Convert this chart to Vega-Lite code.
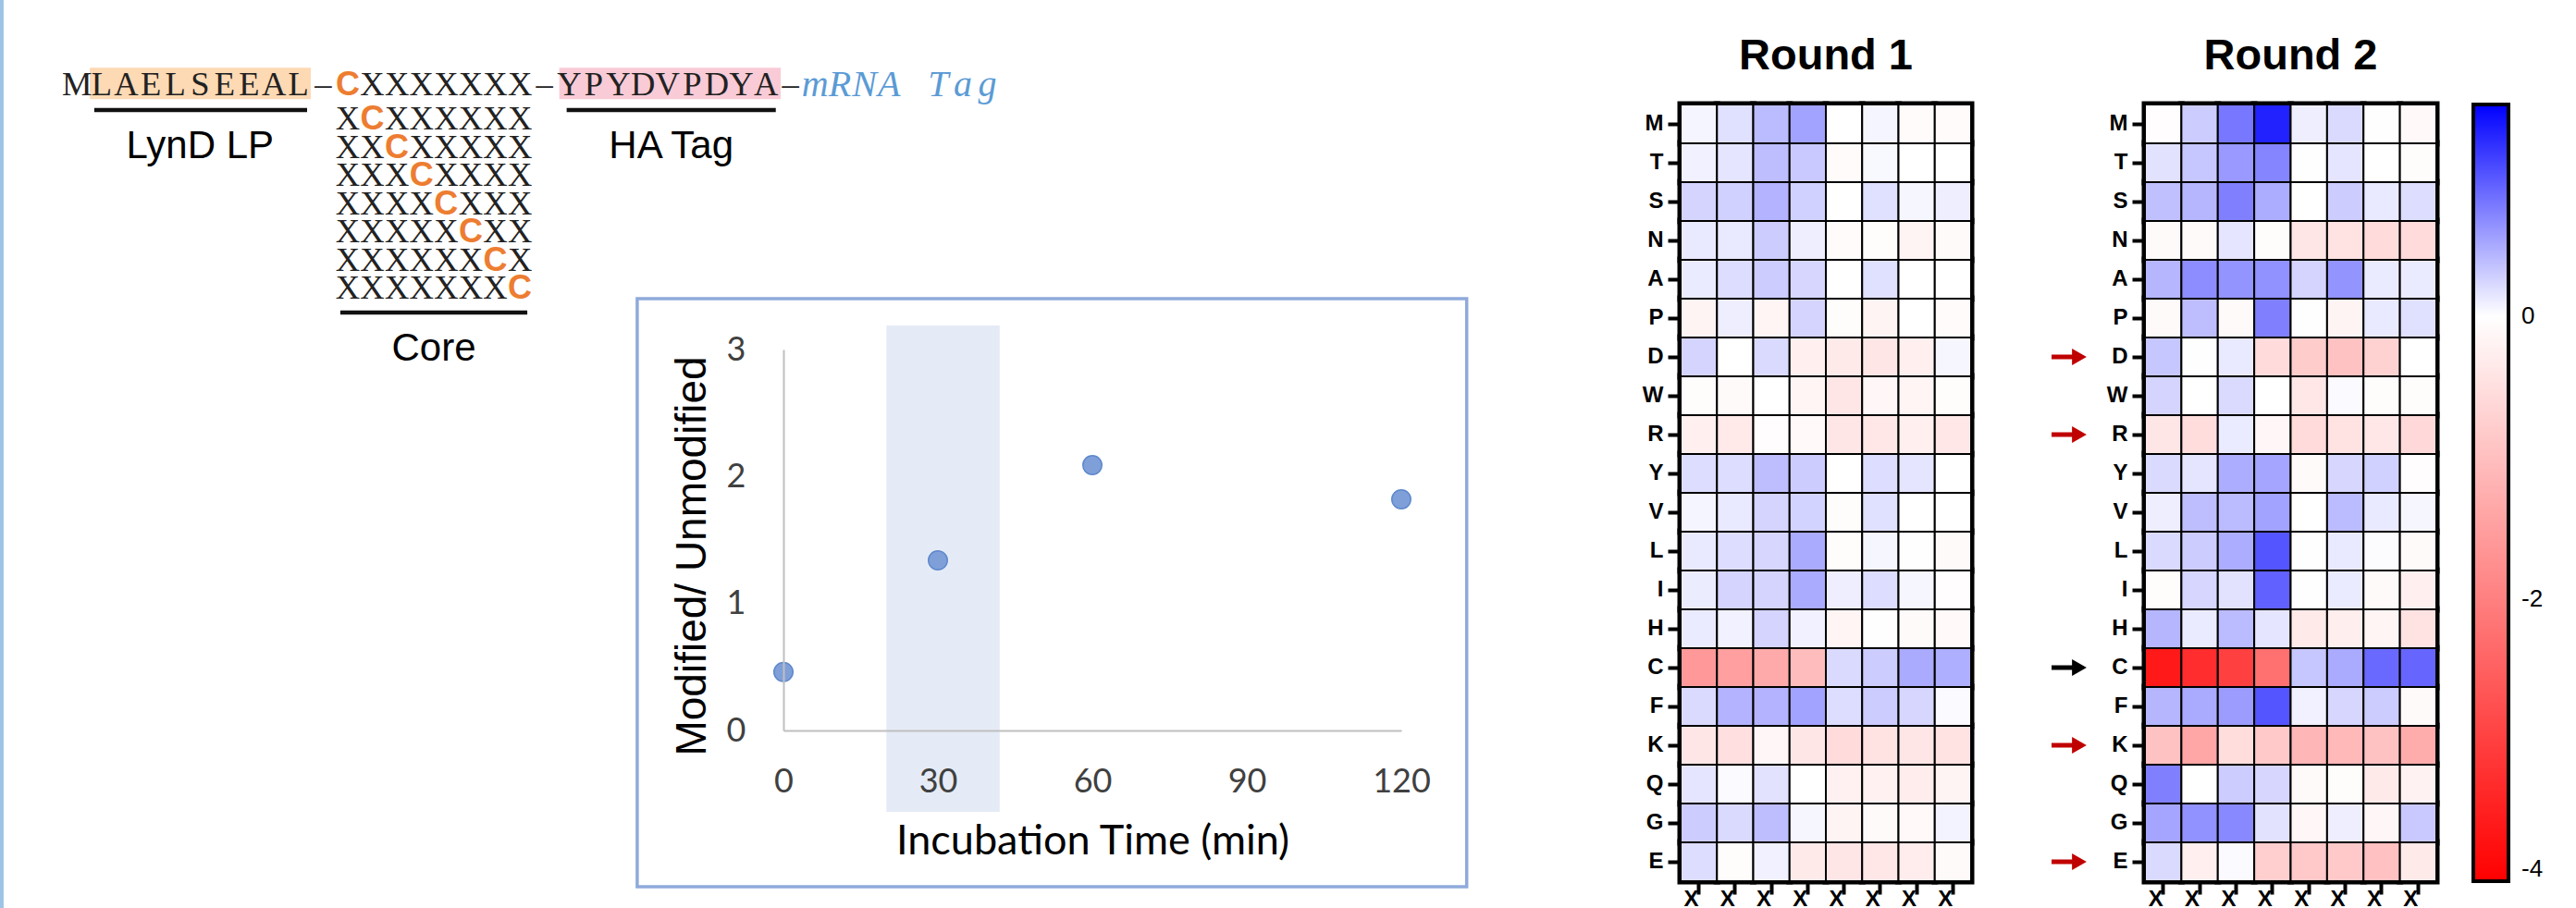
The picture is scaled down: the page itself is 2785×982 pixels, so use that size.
{
  "$schema": "https://vega.github.io/schema/vega-lite/v6.json",
  "width": 2785,
  "height": 982,
  "autosize": {"type": "none"},
  "padding": 0,
  "background": "white",
  "config": {"view": {"stroke": null}, "axis": {"grid": false}},
  "datasets": {
    "chars": [
      {"ch":"M","col":0,"line":0,"k":"seq"},{"ch":"L","col":1,"line":0,"k":"seq"},{"ch":"A","col":2,"line":0,"k":"seq"},{"ch":"E","col":3,"line":0,"k":"seq"},{"ch":"L","col":4,"line":0,"k":"seq"},{"ch":"S","col":5,"line":0,"k":"seq"},{"ch":"E","col":6,"line":0,"k":"seq"},{"ch":"E","col":7,"line":0,"k":"seq"},{"ch":"A","col":8,"line":0,"k":"seq"},{"ch":"L","col":9,"line":0,"k":"seq"},
      {"ch":"–","col":10,"line":0,"k":"seq"},{"ch":"C","col":11,"line":0,"k":"cys"},
      {"ch":"X","col":12,"line":0,"k":"seq"},{"ch":"X","col":13,"line":0,"k":"seq"},{"ch":"X","col":14,"line":0,"k":"seq"},{"ch":"X","col":15,"line":0,"k":"seq"},{"ch":"X","col":16,"line":0,"k":"seq"},{"ch":"X","col":17,"line":0,"k":"seq"},{"ch":"X","col":18,"line":0,"k":"seq"},
      {"ch":"–","col":19,"line":0,"k":"seq"},
      {"ch":"Y","col":20,"line":0,"k":"seq"},{"ch":"P","col":21,"line":0,"k":"seq"},{"ch":"Y","col":22,"line":0,"k":"seq"},{"ch":"D","col":23,"line":0,"k":"seq"},{"ch":"V","col":24,"line":0,"k":"seq"},{"ch":"P","col":25,"line":0,"k":"seq"},{"ch":"D","col":26,"line":0,"k":"seq"},{"ch":"Y","col":27,"line":0,"k":"seq"},{"ch":"A","col":28,"line":0,"k":"seq"},
      {"ch":"–","col":29,"line":0,"k":"seq"},
      {"ch":"m","col":30,"line":0,"k":"tag"},{"ch":"R","col":31,"line":0,"k":"tag"},{"ch":"N","col":32,"line":0,"k":"tag"},{"ch":"A","col":33,"line":0,"k":"tag"},{"ch":"T","col":35,"line":0,"k":"tag"},{"ch":"a","col":36,"line":0,"k":"tag"},{"ch":"g","col":37,"line":0,"k":"tag"},
      {"ch":"X","col":11,"line":1,"k":"seq"},{"ch":"C","col":12,"line":1,"k":"cys"},{"ch":"X","col":13,"line":1,"k":"seq"},{"ch":"X","col":14,"line":1,"k":"seq"},{"ch":"X","col":15,"line":1,"k":"seq"},{"ch":"X","col":16,"line":1,"k":"seq"},{"ch":"X","col":17,"line":1,"k":"seq"},{"ch":"X","col":18,"line":1,"k":"seq"},
      {"ch":"X","col":11,"line":2,"k":"seq"},{"ch":"X","col":12,"line":2,"k":"seq"},{"ch":"C","col":13,"line":2,"k":"cys"},{"ch":"X","col":14,"line":2,"k":"seq"},{"ch":"X","col":15,"line":2,"k":"seq"},{"ch":"X","col":16,"line":2,"k":"seq"},{"ch":"X","col":17,"line":2,"k":"seq"},{"ch":"X","col":18,"line":2,"k":"seq"},
      {"ch":"X","col":11,"line":3,"k":"seq"},{"ch":"X","col":12,"line":3,"k":"seq"},{"ch":"X","col":13,"line":3,"k":"seq"},{"ch":"C","col":14,"line":3,"k":"cys"},{"ch":"X","col":15,"line":3,"k":"seq"},{"ch":"X","col":16,"line":3,"k":"seq"},{"ch":"X","col":17,"line":3,"k":"seq"},{"ch":"X","col":18,"line":3,"k":"seq"},
      {"ch":"X","col":11,"line":4,"k":"seq"},{"ch":"X","col":12,"line":4,"k":"seq"},{"ch":"X","col":13,"line":4,"k":"seq"},{"ch":"X","col":14,"line":4,"k":"seq"},{"ch":"C","col":15,"line":4,"k":"cys"},{"ch":"X","col":16,"line":4,"k":"seq"},{"ch":"X","col":17,"line":4,"k":"seq"},{"ch":"X","col":18,"line":4,"k":"seq"},
      {"ch":"X","col":11,"line":5,"k":"seq"},{"ch":"X","col":12,"line":5,"k":"seq"},{"ch":"X","col":13,"line":5,"k":"seq"},{"ch":"X","col":14,"line":5,"k":"seq"},{"ch":"X","col":15,"line":5,"k":"seq"},{"ch":"C","col":16,"line":5,"k":"cys"},{"ch":"X","col":17,"line":5,"k":"seq"},{"ch":"X","col":18,"line":5,"k":"seq"},
      {"ch":"X","col":11,"line":6,"k":"seq"},{"ch":"X","col":12,"line":6,"k":"seq"},{"ch":"X","col":13,"line":6,"k":"seq"},{"ch":"X","col":14,"line":6,"k":"seq"},{"ch":"X","col":15,"line":6,"k":"seq"},{"ch":"X","col":16,"line":6,"k":"seq"},{"ch":"C","col":17,"line":6,"k":"cys"},{"ch":"X","col":18,"line":6,"k":"seq"},
      {"ch":"X","col":11,"line":7,"k":"seq"},{"ch":"X","col":12,"line":7,"k":"seq"},{"ch":"X","col":13,"line":7,"k":"seq"},{"ch":"X","col":14,"line":7,"k":"seq"},{"ch":"X","col":15,"line":7,"k":"seq"},{"ch":"X","col":16,"line":7,"k":"seq"},{"ch":"X","col":17,"line":7,"k":"seq"},{"ch":"C","col":18,"line":7,"k":"cys"}
    ],
    "r1": [
      {"aa":"M","p":1,"v":0.06},{"aa":"M","p":2,"v":0.18},{"aa":"M","p":3,"v":0.40},{"aa":"M","p":4,"v":0.55},{"aa":"M","p":5,"v":0},{"aa":"M","p":6,"v":0.06},{"aa":"M","p":7,"v":-0.07},{"aa":"M","p":8,"v":-0.07},
      {"aa":"T","p":1,"v":0.08},{"aa":"T","p":2,"v":0.15},{"aa":"T","p":3,"v":0.38},{"aa":"T","p":4,"v":0.32},{"aa":"T","p":5,"v":-0.06},{"aa":"T","p":6,"v":0.04},{"aa":"T","p":7,"v":0},{"aa":"T","p":8,"v":0},
      {"aa":"S","p":1,"v":0.25},{"aa":"S","p":2,"v":0.27},{"aa":"S","p":3,"v":0.45},{"aa":"S","p":4,"v":0.27},{"aa":"S","p":5,"v":0},{"aa":"S","p":6,"v":0.18},{"aa":"S","p":7,"v":0.05},{"aa":"S","p":8,"v":0.10},
      {"aa":"N","p":1,"v":0.13},{"aa":"N","p":2,"v":0.13},{"aa":"N","p":3,"v":0.30},{"aa":"N","p":4,"v":0.10},{"aa":"N","p":5,"v":-0.07},{"aa":"N","p":6,"v":-0.05},{"aa":"N","p":7,"v":-0.17},{"aa":"N","p":8,"v":-0.08},
      {"aa":"A","p":1,"v":0.12},{"aa":"A","p":2,"v":0.20},{"aa":"A","p":3,"v":0.30},{"aa":"A","p":4,"v":0.24},{"aa":"A","p":5,"v":0},{"aa":"A","p":6,"v":0.18},{"aa":"A","p":7,"v":0},{"aa":"A","p":8,"v":0},
      {"aa":"P","p":1,"v":-0.17},{"aa":"P","p":2,"v":0.10},{"aa":"P","p":3,"v":-0.15},{"aa":"P","p":4,"v":0.25},{"aa":"P","p":5,"v":-0.05},{"aa":"P","p":6,"v":-0.17},{"aa":"P","p":7,"v":0},{"aa":"P","p":8,"v":-0.07},
      {"aa":"D","p":1,"v":0.25},{"aa":"D","p":2,"v":0},{"aa":"D","p":3,"v":0.22},{"aa":"D","p":4,"v":-0.25},{"aa":"D","p":5,"v":-0.33},{"aa":"D","p":6,"v":-0.40},{"aa":"D","p":7,"v":-0.25},{"aa":"D","p":8,"v":0.05},
      {"aa":"W","p":1,"v":-0.05},{"aa":"W","p":2,"v":-0.08},{"aa":"W","p":3,"v":0},{"aa":"W","p":4,"v":-0.15},{"aa":"W","p":5,"v":-0.40},{"aa":"W","p":6,"v":-0.12},{"aa":"W","p":7,"v":-0.15},{"aa":"W","p":8,"v":-0.05},
      {"aa":"R","p":1,"v":-0.25},{"aa":"R","p":2,"v":-0.35},{"aa":"R","p":3,"v":-0.03},{"aa":"R","p":4,"v":-0.10},{"aa":"R","p":5,"v":-0.40},{"aa":"R","p":6,"v":-0.37},{"aa":"R","p":7,"v":-0.25},{"aa":"R","p":8,"v":-0.37},
      {"aa":"Y","p":1,"v":0.20},{"aa":"Y","p":2,"v":0.20},{"aa":"Y","p":3,"v":0.38},{"aa":"Y","p":4,"v":0.30},{"aa":"Y","p":5,"v":0},{"aa":"Y","p":6,"v":0.20},{"aa":"Y","p":7,"v":0.15},{"aa":"Y","p":8,"v":0},
      {"aa":"V","p":1,"v":0.06},{"aa":"V","p":2,"v":0.13},{"aa":"V","p":3,"v":0.25},{"aa":"V","p":4,"v":0.26},{"aa":"V","p":5,"v":-0.05},{"aa":"V","p":6,"v":0.18},{"aa":"V","p":7,"v":0},{"aa":"V","p":8,"v":0},
      {"aa":"L","p":1,"v":0.13},{"aa":"L","p":2,"v":0.20},{"aa":"L","p":3,"v":0.24},{"aa":"L","p":4,"v":0.50},{"aa":"L","p":5,"v":-0.05},{"aa":"L","p":6,"v":0.05},{"aa":"L","p":7,"v":-0.02},{"aa":"L","p":8,"v":-0.08},
      {"aa":"I","p":1,"v":0.11},{"aa":"I","p":2,"v":0.25},{"aa":"I","p":3,"v":0.25},{"aa":"I","p":4,"v":0.50},{"aa":"I","p":5,"v":0.10},{"aa":"I","p":6,"v":0.20},{"aa":"I","p":7,"v":0.05},{"aa":"I","p":8,"v":-0.03},
      {"aa":"H","p":1,"v":0.12},{"aa":"H","p":2,"v":0.08},{"aa":"H","p":3,"v":0.25},{"aa":"H","p":4,"v":0.08},{"aa":"H","p":5,"v":-0.15},{"aa":"H","p":6,"v":-0.02},{"aa":"H","p":7,"v":-0.08},{"aa":"H","p":8,"v":-0.10},
      {"aa":"C","p":1,"v":-1.60},{"aa":"C","p":2,"v":-1.50},{"aa":"C","p":3,"v":-1.33},{"aa":"C","p":4,"v":-1.05},{"aa":"C","p":5,"v":0.22},{"aa":"C","p":6,"v":0.30},{"aa":"C","p":7,"v":0.50},{"aa":"C","p":8,"v":0.47},
      {"aa":"F","p":1,"v":0.22},{"aa":"F","p":2,"v":0.45},{"aa":"F","p":3,"v":0.45},{"aa":"F","p":4,"v":0.55},{"aa":"F","p":5,"v":0.20},{"aa":"F","p":6,"v":0.30},{"aa":"F","p":7,"v":0.24},{"aa":"F","p":8,"v":0.03},
      {"aa":"K","p":1,"v":-0.40},{"aa":"K","p":2,"v":-0.50},{"aa":"K","p":3,"v":-0.12},{"aa":"K","p":4,"v":-0.40},{"aa":"K","p":5,"v":-0.57},{"aa":"K","p":6,"v":-0.45},{"aa":"K","p":7,"v":-0.40},{"aa":"K","p":8,"v":-0.45},
      {"aa":"Q","p":1,"v":0.15},{"aa":"Q","p":2,"v":0.03},{"aa":"Q","p":3,"v":0.17},{"aa":"Q","p":4,"v":0},{"aa":"Q","p":5,"v":-0.22},{"aa":"Q","p":6,"v":-0.22},{"aa":"Q","p":7,"v":-0.30},{"aa":"Q","p":8,"v":-0.18},
      {"aa":"G","p":1,"v":0.30},{"aa":"G","p":2,"v":0.22},{"aa":"G","p":3,"v":0.38},{"aa":"G","p":4,"v":0.05},{"aa":"G","p":5,"v":-0.18},{"aa":"G","p":6,"v":-0.08},{"aa":"G","p":7,"v":-0.10},{"aa":"G","p":8,"v":0.07},
      {"aa":"E","p":1,"v":0.20},{"aa":"E","p":2,"v":-0.05},{"aa":"E","p":3,"v":0.08},{"aa":"E","p":4,"v":-0.33},{"aa":"E","p":5,"v":-0.40},{"aa":"E","p":6,"v":-0.38},{"aa":"E","p":7,"v":-0.30},{"aa":"E","p":8,"v":-0.08}
    ],
    "r2": [
      {"aa":"M","p":1,"v":-0.03},{"aa":"M","p":2,"v":0.30},{"aa":"M","p":3,"v":0.80},{"aa":"M","p":4,"v":1.30},{"aa":"M","p":5,"v":0.10},{"aa":"M","p":6,"v":0.22},{"aa":"M","p":7,"v":-0.02},{"aa":"M","p":8,"v":-0.10},
      {"aa":"T","p":1,"v":0.17},{"aa":"T","p":2,"v":0.33},{"aa":"T","p":3,"v":0.60},{"aa":"T","p":4,"v":0.72},{"aa":"T","p":5,"v":-0.02},{"aa":"T","p":6,"v":0.15},{"aa":"T","p":7,"v":0},{"aa":"T","p":8,"v":-0.05},
      {"aa":"S","p":1,"v":0.37},{"aa":"S","p":2,"v":0.43},{"aa":"S","p":3,"v":0.75},{"aa":"S","p":4,"v":0.48},{"aa":"S","p":5,"v":0},{"aa":"S","p":6,"v":0.30},{"aa":"S","p":7,"v":0.13},{"aa":"S","p":8,"v":0.20},
      {"aa":"N","p":1,"v":-0.08},{"aa":"N","p":2,"v":-0.08},{"aa":"N","p":3,"v":0.15},{"aa":"N","p":4,"v":-0.05},{"aa":"N","p":5,"v":-0.40},{"aa":"N","p":6,"v":-0.45},{"aa":"N","p":7,"v":-0.57},{"aa":"N","p":8,"v":-0.57},
      {"aa":"A","p":1,"v":0.43},{"aa":"A","p":2,"v":0.67},{"aa":"A","p":3,"v":0.63},{"aa":"A","p":4,"v":0.65},{"aa":"A","p":5,"v":0.25},{"aa":"A","p":6,"v":0.63},{"aa":"A","p":7,"v":0.12},{"aa":"A","p":8,"v":0.12},
      {"aa":"P","p":1,"v":-0.08},{"aa":"P","p":2,"v":0.38},{"aa":"P","p":3,"v":-0.08},{"aa":"P","p":4,"v":0.75},{"aa":"P","p":5,"v":-0.02},{"aa":"P","p":6,"v":-0.18},{"aa":"P","p":7,"v":0.13},{"aa":"P","p":8,"v":0.18},
      {"aa":"D","p":1,"v":0.33},{"aa":"D","p":2,"v":-0.02},{"aa":"D","p":3,"v":0.13},{"aa":"D","p":4,"v":-0.57},{"aa":"D","p":5,"v":-0.80},{"aa":"D","p":6,"v":-0.95},{"aa":"D","p":7,"v":-0.70},{"aa":"D","p":8,"v":0},
      {"aa":"W","p":1,"v":0.25},{"aa":"W","p":2,"v":0},{"aa":"W","p":3,"v":0.22},{"aa":"W","p":4,"v":0},{"aa":"W","p":5,"v":-0.37},{"aa":"W","p":6,"v":0.03},{"aa":"W","p":7,"v":-0.05},{"aa":"W","p":8,"v":-0.05},
      {"aa":"R","p":1,"v":-0.40},{"aa":"R","p":2,"v":-0.53},{"aa":"R","p":3,"v":0.12},{"aa":"R","p":4,"v":-0.12},{"aa":"R","p":5,"v":-0.57},{"aa":"R","p":6,"v":-0.45},{"aa":"R","p":7,"v":-0.37},{"aa":"R","p":8,"v":-0.60},
      {"aa":"Y","p":1,"v":0.22},{"aa":"Y","p":2,"v":0.15},{"aa":"Y","p":3,"v":0.48},{"aa":"Y","p":4,"v":0.53},{"aa":"Y","p":5,"v":-0.08},{"aa":"Y","p":6,"v":0.24},{"aa":"Y","p":7,"v":0.27},{"aa":"Y","p":8,"v":-0.03},
      {"aa":"V","p":1,"v":0.10},{"aa":"V","p":2,"v":0.38},{"aa":"V","p":3,"v":0.40},{"aa":"V","p":4,"v":0.55},{"aa":"V","p":5,"v":0},{"aa":"V","p":6,"v":0.40},{"aa":"V","p":7,"v":0.13},{"aa":"V","p":8,"v":0.05},
      {"aa":"L","p":1,"v":0.22},{"aa":"L","p":2,"v":0.30},{"aa":"L","p":3,"v":0.48},{"aa":"L","p":4,"v":1.00},{"aa":"L","p":5,"v":-0.02},{"aa":"L","p":6,"v":0.13},{"aa":"L","p":7,"v":0.02},{"aa":"L","p":8,"v":-0.08},
      {"aa":"I","p":1,"v":-0.05},{"aa":"I","p":2,"v":0.24},{"aa":"I","p":3,"v":0.17},{"aa":"I","p":4,"v":0.93},{"aa":"I","p":5,"v":-0.02},{"aa":"I","p":6,"v":0.12},{"aa":"I","p":7,"v":-0.08},{"aa":"I","p":8,"v":-0.25},
      {"aa":"H","p":1,"v":0.43},{"aa":"H","p":2,"v":0.12},{"aa":"H","p":3,"v":0.40},{"aa":"H","p":4,"v":0.15},{"aa":"H","p":5,"v":-0.33},{"aa":"H","p":6,"v":-0.27},{"aa":"H","p":7,"v":-0.15},{"aa":"H","p":8,"v":-0.45},
      {"aa":"C","p":1,"v":-3.60},{"aa":"C","p":2,"v":-3.30},{"aa":"C","p":3,"v":-3.00},{"aa":"C","p":4,"v":-2.25},{"aa":"C","p":5,"v":0.33},{"aa":"C","p":6,"v":0.50},{"aa":"C","p":7,"v":0.88},{"aa":"C","p":8,"v":0.90},
      {"aa":"F","p":1,"v":0.43},{"aa":"F","p":2,"v":0.50},{"aa":"F","p":3,"v":0.58},{"aa":"F","p":4,"v":1.00},{"aa":"F","p":5,"v":0.08},{"aa":"F","p":6,"v":0.24},{"aa":"F","p":7,"v":0.30},{"aa":"F","p":8,"v":-0.08},
      {"aa":"K","p":1,"v":-0.95},{"aa":"K","p":2,"v":-1.40},{"aa":"K","p":3,"v":-0.53},{"aa":"K","p":4,"v":-0.85},{"aa":"K","p":5,"v":-1.15},{"aa":"K","p":6,"v":-1.10},{"aa":"K","p":7,"v":-0.95},{"aa":"K","p":8,"v":-1.30},
      {"aa":"Q","p":1,"v":0.75},{"aa":"Q","p":2,"v":0},{"aa":"Q","p":3,"v":0.30},{"aa":"Q","p":4,"v":0.24},{"aa":"Q","p":5,"v":-0.08},{"aa":"Q","p":6,"v":-0.05},{"aa":"Q","p":7,"v":-0.33},{"aa":"Q","p":8,"v":-0.20},
      {"aa":"G","p":1,"v":0.53},{"aa":"G","p":2,"v":0.65},{"aa":"G","p":3,"v":0.70},{"aa":"G","p":4,"v":0.17},{"aa":"G","p":5,"v":-0.12},{"aa":"G","p":6,"v":0.10},{"aa":"G","p":7,"v":-0.12},{"aa":"G","p":8,"v":0.32},
      {"aa":"E","p":1,"v":0.22},{"aa":"E","p":2,"v":-0.25},{"aa":"E","p":3,"v":0.03},{"aa":"E","p":4,"v":-0.75},{"aa":"E","p":5,"v":-0.85},{"aa":"E","p":6,"v":-0.85},{"aa":"E","p":7,"v":-0.98},{"aa":"E","p":8,"v":-0.33}
    ]
  },
  "layer": [
    {
      "layer": [
        {
          "data": {"values": [{"col": -3.06, "l1": -2.6, "l2": 29.5}]},
          "mark": {"type": "rule", "color": "#9DC3E6", "strokeWidth": 4},
          "encoding": {
            "x": {"field": "col", "type": "quantitative", "scale": {"domain": [0, 30], "range": [83.3, 881.3], "zero": false, "nice": false}, "axis": null},
            "y": {"field": "l1", "type": "quantitative", "scale": {"domain": [0, 1, 10], "range": [92, 129, 403.5], "zero": false, "nice": false}, "axis": null},
            "y2": {"field": "l2"}
          }
        },
        {
          "data": {"values": [{"seg": "LynD LP", "c1": 0.52, "c2": 9.5, "l1": -0.51, "l2": 0.41}]},
          "mark": {"type": "rect", "color": "#FDD9B4"},
          "encoding": {
            "x": {"field": "c1", "type": "quantitative", "scale": {"domain": [0, 30], "range": [83.3, 881.3], "zero": false, "nice": false}, "axis": null},
            "x2": {"field": "c2"},
            "y": {"field": "l1", "type": "quantitative", "scale": {"domain": [0, 1, 10], "range": [92, 129, 403.5], "zero": false, "nice": false}, "axis": null},
            "y2": {"field": "l2"}
          }
        },
        {
          "data": {"values": [{"seg": "HA Tag", "c1": 19.6, "c2": 28.6, "l1": -0.51, "l2": 0.41}]},
          "mark": {"type": "rect", "color": "#F9CBD6"},
          "encoding": {
            "x": {"field": "c1", "type": "quantitative", "scale": {"domain": [0, 30], "range": [83.3, 881.3], "zero": false, "nice": false}, "axis": null},
            "x2": {"field": "c2"},
            "y": {"field": "l1", "type": "quantitative", "scale": {"domain": [0, 1, 10], "range": [92, 129, 403.5], "zero": false, "nice": false}, "axis": null},
            "y2": {"field": "l2"}
          }
        },
        {
          "data": {"values": [{"c1": 0.7, "c2": 9.35, "line": 0.73}, {"c1": 19.9, "c2": 28.4, "line": 0.73}, {"c1": 10.7, "c2": 18.3, "line": 7.85}]},
          "mark": {"type": "rule", "color": "#111111", "strokeWidth": 4.5},
          "encoding": {
            "x": {"field": "c1", "type": "quantitative", "scale": {"domain": [0, 30], "range": [83.3, 881.3], "zero": false, "nice": false}, "axis": null},
            "x2": {"field": "c2"},
            "y": {"field": "line", "type": "quantitative", "scale": {"domain": [0, 1, 10], "range": [92, 129, 403.5], "zero": false, "nice": false}, "axis": null}
          }
        },
        {
          "data": {"name": "chars"},
          "transform": [{"filter": "datum.k == 'seq'"}],
          "mark": {"type": "text", "font": "Liberation Serif", "fontSize": 36.5, "color": "#222222", "baseline": "middle", "align": "center"},
          "encoding": {
            "x": {"field": "col", "type": "quantitative", "scale": {"domain": [0, 30], "range": [83.3, 881.3], "zero": false, "nice": false}, "axis": null},
            "y": {"field": "line", "type": "quantitative", "scale": {"domain": [0, 1, 10], "range": [92, 129, 403.5], "zero": false, "nice": false}, "axis": null},
            "text": {"field": "ch"}
          }
        },
        {
          "data": {"name": "chars"},
          "transform": [{"filter": "datum.k == 'cys'"}],
          "mark": {"type": "text", "font": "Liberation Sans", "fontWeight": "bold", "fontSize": 36, "color": "#ED7D31", "baseline": "middle", "align": "center"},
          "encoding": {
            "x": {"field": "col", "type": "quantitative", "scale": {"domain": [0, 30], "range": [83.3, 881.3], "zero": false, "nice": false}, "axis": null},
            "y": {"field": "line", "type": "quantitative", "scale": {"domain": [0, 1, 10], "range": [92, 129, 403.5], "zero": false, "nice": false}, "axis": null},
            "text": {"field": "ch"}
          }
        },
        {
          "data": {"name": "chars"},
          "transform": [{"filter": "datum.k == 'tag'"}],
          "mark": {"type": "text", "font": "Liberation Serif", "fontStyle": "italic", "fontSize": 40, "color": "#5B9BD5", "baseline": "middle", "align": "center"},
          "encoding": {
            "x": {"field": "col", "type": "quantitative", "scale": {"domain": [0, 30], "range": [83.3, 881.3], "zero": false, "nice": false}, "axis": null},
            "y": {"field": "line", "type": "quantitative", "scale": {"domain": [0, 1, 10], "range": [92, 129, 403.5], "zero": false, "nice": false}, "axis": null},
            "text": {"field": "ch"}
          }
        },
        {
          "data": {"values": [{"t": "LynD LP", "col": 5, "line": 1.95}, {"t": "HA Tag", "col": 24.15, "line": 1.95}, {"t": "Core", "col": 14.5, "line": 9.13}]},
          "mark": {"type": "text", "font": "Liberation Sans", "fontSize": 42, "color": "black", "baseline": "middle", "align": "center"},
          "encoding": {
            "x": {"field": "col", "type": "quantitative", "scale": {"domain": [0, 30], "range": [83.3, 881.3], "zero": false, "nice": false}, "axis": null},
            "y": {"field": "line", "type": "quantitative", "scale": {"domain": [0, 1, 10], "range": [92, 129, 403.5], "zero": false, "nice": false}, "axis": null},
            "text": {"field": "t"}
          }
        }
      ]
    },
    {
      "layer": [
        {
          "data": {"values": [{"x1": -28.4, "x2": 132.7, "y1": -1.23, "y2": 3.40}]},
          "mark": {"type": "rect", "filled": false, "color": "#8FAADC", "strokeWidth": 3.5},
          "encoding": {
            "x": {"field": "x1", "type": "quantitative", "scale": {"domain": [0, 120], "range": [847, 1515], "zero": false, "nice": false}},
            "x2": {"field": "x2"},
            "y": {"field": "y1", "type": "quantitative", "scale": {"domain": [0, 3], "range": [790, 378], "zero": false, "nice": false}},
            "y2": {"field": "y2"}
          }
        },
        {
          "data": {"values": [{"x1": 20, "x2": 42, "y1": -0.64, "y2": 3.19}]},
          "mark": {"type": "rect", "color": "#E5EBF6"},
          "encoding": {
            "x": {"field": "x1", "type": "quantitative", "scale": {"domain": [0, 120], "range": [847, 1515], "zero": false, "nice": false}},
            "x2": {"field": "x2"},
            "y": {"field": "y1", "type": "quantitative", "scale": {"domain": [0, 3], "range": [790, 378], "zero": false, "nice": false}},
            "y2": {"field": "y2"}
          }
        },
        {
          "data": {"values": [{"t": 0, "r": 0.46}, {"t": 30, "r": 1.34}, {"t": 60, "r": 2.09}, {"t": 120, "r": 1.82}]},
          "mark": {"type": "point", "shape": "circle", "filled": true, "size": 420, "fill": "#7F9FD9", "stroke": "#5E88CC", "strokeWidth": 1.5, "opacity": 1},
          "encoding": {
            "x": {"field": "t", "type": "quantitative", "scale": {"domain": [0, 120], "range": [847, 1515], "zero": false, "nice": false},
              "axis": {"orient": "bottom", "offset": -192, "values": [0, 30, 60, 90, 120], "format": "d", "domainColor": "#BFBFBF", "domainWidth": 2, "ticks": false, "tickSize": 0, "labelFont": "Lato", "labelFontSize": 36, "labelColor": "#404040", "labelPadding": 38, "labelFlush": false, "labelOverlap": false, "title": "Incubation Time (min)", "titleFont": "Lato", "titleFontSize": 45, "titleFontWeight": "normal", "titleColor": "black", "titlePadding": 24, "zindex": 1}},
            "y": {"field": "r", "type": "quantitative", "scale": {"domain": [0, 3], "range": [790, 378], "zero": false, "nice": false},
              "axis": {"orient": "left", "offset": -847, "values": [0, 1, 2, 3], "format": "d", "domainColor": "#BFBFBF", "domainWidth": 2, "ticks": false, "tickSize": 0, "labelFont": "Lato", "labelFontSize": 36, "labelColor": "#404040", "labelPadding": 41, "labelFlush": false, "labelOverlap": false, "title": "Modified/ Unmodified", "titleFont": "Liberation Sans", "titleFontSize": 46, "titleFontWeight": "normal", "titleColor": "black", "titlePadding": 13, "titleY": 601, "zindex": 1}}
          }
        }
      ]
    },
    {
      "data": {"name": "r1"},
      "layer": [
        {
          "mark": {"type": "rect", "color": "black", "stroke": "black", "strokeWidth": 7},
          "encoding": {
            "x": {"field": "p", "type": "ordinal", "scale": {"type": "band", "domain": [1, 2, 3, 4, 5, 6, 7, 8], "range": [1817, 2131], "paddingInner": 0, "paddingOuter": 0}},
            "y": {"field": "aa", "type": "nominal", "scale": {"type": "band", "domain": ["M","T","S","N","A","P","D","W","R","Y","V","L","I","H","C","F","K","Q","G","E"], "range": [113, 953], "paddingInner": 0, "paddingOuter": 0}}
          }
        },
        {
          "mark": {"type": "rect", "stroke": "black", "strokeWidth": 2},
          "encoding": {
            "x": {"field": "p", "type": "ordinal", "scale": {"type": "band", "domain": [1, 2, 3, 4, 5, 6, 7, 8], "range": [1817, 2131], "paddingInner": 0, "paddingOuter": 0},
              "axis": {"orient": "bottom", "offset": -29, "domain": false, "tickColor": "black", "tickWidth": 4, "tickSize": 14, "labelExpr": "'X'", "labelFont": "Liberation Sans", "labelFontWeight": "bold", "labelFontSize": 24, "labelColor": "black", "labelAngle": 0, "labelPadding": 5, "title": null}},
            "y": {"field": "aa", "type": "nominal", "scale": {"type": "band", "domain": ["M","T","S","N","A","P","D","W","R","Y","V","L","I","H","C","F","K","Q","G","E"], "range": [113, 953], "paddingInner": 0, "paddingOuter": 0},
              "axis": {"orient": "left", "offset": -1817, "domain": false, "tickColor": "black", "tickWidth": 4, "tickSize": 14, "labelFont": "Liberation Sans", "labelFontWeight": "bold", "labelFontSize": 24, "labelColor": "black", "labelPadding": 5, "title": null}},
            "color": {"field": "v", "type": "quantitative", "scale": {"type": "linear", "domain": [-4, 0, 1.5], "range": ["#ff0000", "#ffffff", "#0000ff"], "interpolate": "rgb"},
              "legend": {"orient": "none", "legendX": 2674, "legendY": 113, "direction": "vertical", "gradientLength": 840, "gradientThickness": 38, "gradientStrokeColor": "black", "gradientStrokeWidth": 4, "values": [0, -2, -4], "labelExpr": "'' + datum.value", "labelFont": "Liberation Sans", "labelFontSize": 26, "labelColor": "black", "labelOffset": 14, "labelBaseline": "middle", "title": null, "padding": 0}}
          }
        },
        {
          "data": {"values": [{"t": "Round 1"}]},
          "mark": {"type": "text", "font": "Liberation Sans", "fontWeight": "bold", "fontSize": 47, "color": "black", "baseline": "alphabetic", "align": "center", "dy": -38},
          "encoding": {
            "x": {"datum": 4, "type": "ordinal", "bandPosition": 1, "scale": {"type": "band", "domain": [1, 2, 3, 4, 5, 6, 7, 8], "range": [1817, 2131], "paddingInner": 0, "paddingOuter": 0}},
            "y": {"datum": "M", "type": "nominal", "bandPosition": 0, "scale": {"type": "band", "domain": ["M","T","S","N","A","P","D","W","R","Y","V","L","I","H","C","F","K","Q","G","E"], "range": [113, 953], "paddingInner": 0, "paddingOuter": 0}},
            "text": {"field": "t"}
          }
        }
      ]
    },
    {
      "data": {"name": "r2"},
      "layer": [
        {
          "mark": {"type": "rect", "color": "black", "stroke": "black", "strokeWidth": 7},
          "encoding": {
            "x": {"field": "p", "type": "ordinal", "scale": {"type": "band", "domain": [1, 2, 3, 4, 5, 6, 7, 8], "range": [2319, 2634], "paddingInner": 0, "paddingOuter": 0}},
            "y": {"field": "aa", "type": "nominal", "scale": {"type": "band", "domain": ["M","T","S","N","A","P","D","W","R","Y","V","L","I","H","C","F","K","Q","G","E"], "range": [113, 953], "paddingInner": 0, "paddingOuter": 0}}
          }
        },
        {
          "mark": {"type": "rect", "stroke": "black", "strokeWidth": 2},
          "encoding": {
            "x": {"field": "p", "type": "ordinal", "scale": {"type": "band", "domain": [1, 2, 3, 4, 5, 6, 7, 8], "range": [2319, 2634], "paddingInner": 0, "paddingOuter": 0},
              "axis": {"orient": "bottom", "offset": -29, "domain": false, "tickColor": "black", "tickWidth": 4, "tickSize": 14, "labelExpr": "'X'", "labelFont": "Liberation Sans", "labelFontWeight": "bold", "labelFontSize": 24, "labelColor": "black", "labelAngle": 0, "labelPadding": 5, "title": null}},
            "y": {"field": "aa", "type": "nominal", "scale": {"type": "band", "domain": ["M","T","S","N","A","P","D","W","R","Y","V","L","I","H","C","F","K","Q","G","E"], "range": [113, 953], "paddingInner": 0, "paddingOuter": 0},
              "axis": {"orient": "left", "offset": -2319, "domain": false, "tickColor": "black", "tickWidth": 4, "tickSize": 14, "labelFont": "Liberation Sans", "labelFontWeight": "bold", "labelFontSize": 24, "labelColor": "black", "labelPadding": 5, "title": null}},
            "color": {"field": "v", "type": "quantitative", "scale": {"type": "linear", "domain": [-4, 0, 1.5], "range": ["#ff0000", "#ffffff", "#0000ff"], "interpolate": "rgb"},
              "legend": {"orient": "none", "legendX": 2674, "legendY": 113, "direction": "vertical", "gradientLength": 840, "gradientThickness": 38, "gradientStrokeColor": "black", "gradientStrokeWidth": 4, "values": [0, -2, -4], "labelExpr": "'' + datum.value", "labelFont": "Liberation Sans", "labelFontSize": 26, "labelColor": "black", "labelOffset": 14, "labelBaseline": "middle", "title": null, "padding": 0}}
          }
        },
        {
          "data": {"values": [{"t": "Round 2"}]},
          "mark": {"type": "text", "font": "Liberation Sans", "fontWeight": "bold", "fontSize": 47, "color": "black", "baseline": "alphabetic", "align": "center", "dy": -38},
          "encoding": {
            "x": {"datum": 4, "type": "ordinal", "bandPosition": 1, "scale": {"type": "band", "domain": [1, 2, 3, 4, 5, 6, 7, 8], "range": [2319, 2634], "paddingInner": 0, "paddingOuter": 0}},
            "y": {"datum": "M", "type": "nominal", "bandPosition": 0, "scale": {"type": "band", "domain": ["M","T","S","N","A","P","D","W","R","Y","V","L","I","H","C","F","K","Q","G","E"], "range": [113, 953], "paddingInner": 0, "paddingOuter": 0}},
            "text": {"field": "t"}
          }
        }
      ]
    },
    {
      "data": {"values": [{"aa": "D", "k": "site"}, {"aa": "R", "k": "site"}, {"aa": "C", "k": "cys"}, {"aa": "K", "k": "site"}, {"aa": "E", "k": "site"}]},
      "layer": [
        {
          "mark": {"type": "rule", "strokeWidth": 5},
          "encoding": {
            "x": {"datum": 0, "type": "quantitative", "scale": {"domain": [0, 39], "range": [2218, 2257], "zero": false, "nice": false}, "axis": null},
            "x2": {"datum": 23},
            "y": {"field": "aa", "type": "nominal", "scale": {"type": "band", "domain": ["M","T","S","N","A","P","D","W","R","Y","V","L","I","H","C","F","K","Q","G","E"], "range": [113, 953], "paddingInner": 0, "paddingOuter": 0}, "axis": null},
            "stroke": {"field": "k", "type": "nominal", "scale": {"domain": ["site", "cys"], "range": ["#C00000", "#000000"]}, "legend": null}
          }
        },
        {
          "mark": {"type": "point", "shape": "triangle-right", "filled": true, "size": 330, "strokeWidth": 0, "opacity": 1},
          "encoding": {
            "x": {"datum": 30, "type": "quantitative", "scale": {"domain": [0, 39], "range": [2218, 2257], "zero": false, "nice": false}, "axis": null},
            "y": {"field": "aa", "type": "nominal", "scale": {"type": "band", "domain": ["M","T","S","N","A","P","D","W","R","Y","V","L","I","H","C","F","K","Q","G","E"], "range": [113, 953], "paddingInner": 0, "paddingOuter": 0}, "axis": null},
            "fill": {"field": "k", "type": "nominal", "scale": {"domain": ["site", "cys"], "range": ["#C00000", "#000000"]}, "legend": null}
          }
        }
      ]
    },
    {
      "data": {"values": [{"v": 0}, {"v": -2}]},
      "layer": [
        {
          "mark": {"type": "rule", "color": "black", "strokeWidth": 3},
          "encoding": {
            "x": {"datum": 0, "type": "quantitative", "scale": {"domain": [0, 38], "range": [2674, 2712], "zero": false, "nice": false}, "axis": null},
            "x2": {"datum": 8},
            "y": {"field": "v", "type": "quantitative", "scale": {"domain": [-4, 1.5], "range": [953, 113], "zero": false, "nice": false}, "axis": null}
          }
        },
        {
          "mark": {"type": "rule", "color": "black", "strokeWidth": 3},
          "encoding": {
            "x": {"datum": 30, "type": "quantitative", "scale": {"domain": [0, 38], "range": [2674, 2712], "zero": false, "nice": false}, "axis": null},
            "x2": {"datum": 38},
            "y": {"field": "v", "type": "quantitative", "scale": {"domain": [-4, 1.5], "range": [953, 113], "zero": false, "nice": false}, "axis": null}
          }
        }
      ]
    }
  ],
  "resolve": {"scale": {"x": "independent", "y": "independent"}, "axis": {"x": "independent", "y": "independent"}}
}
